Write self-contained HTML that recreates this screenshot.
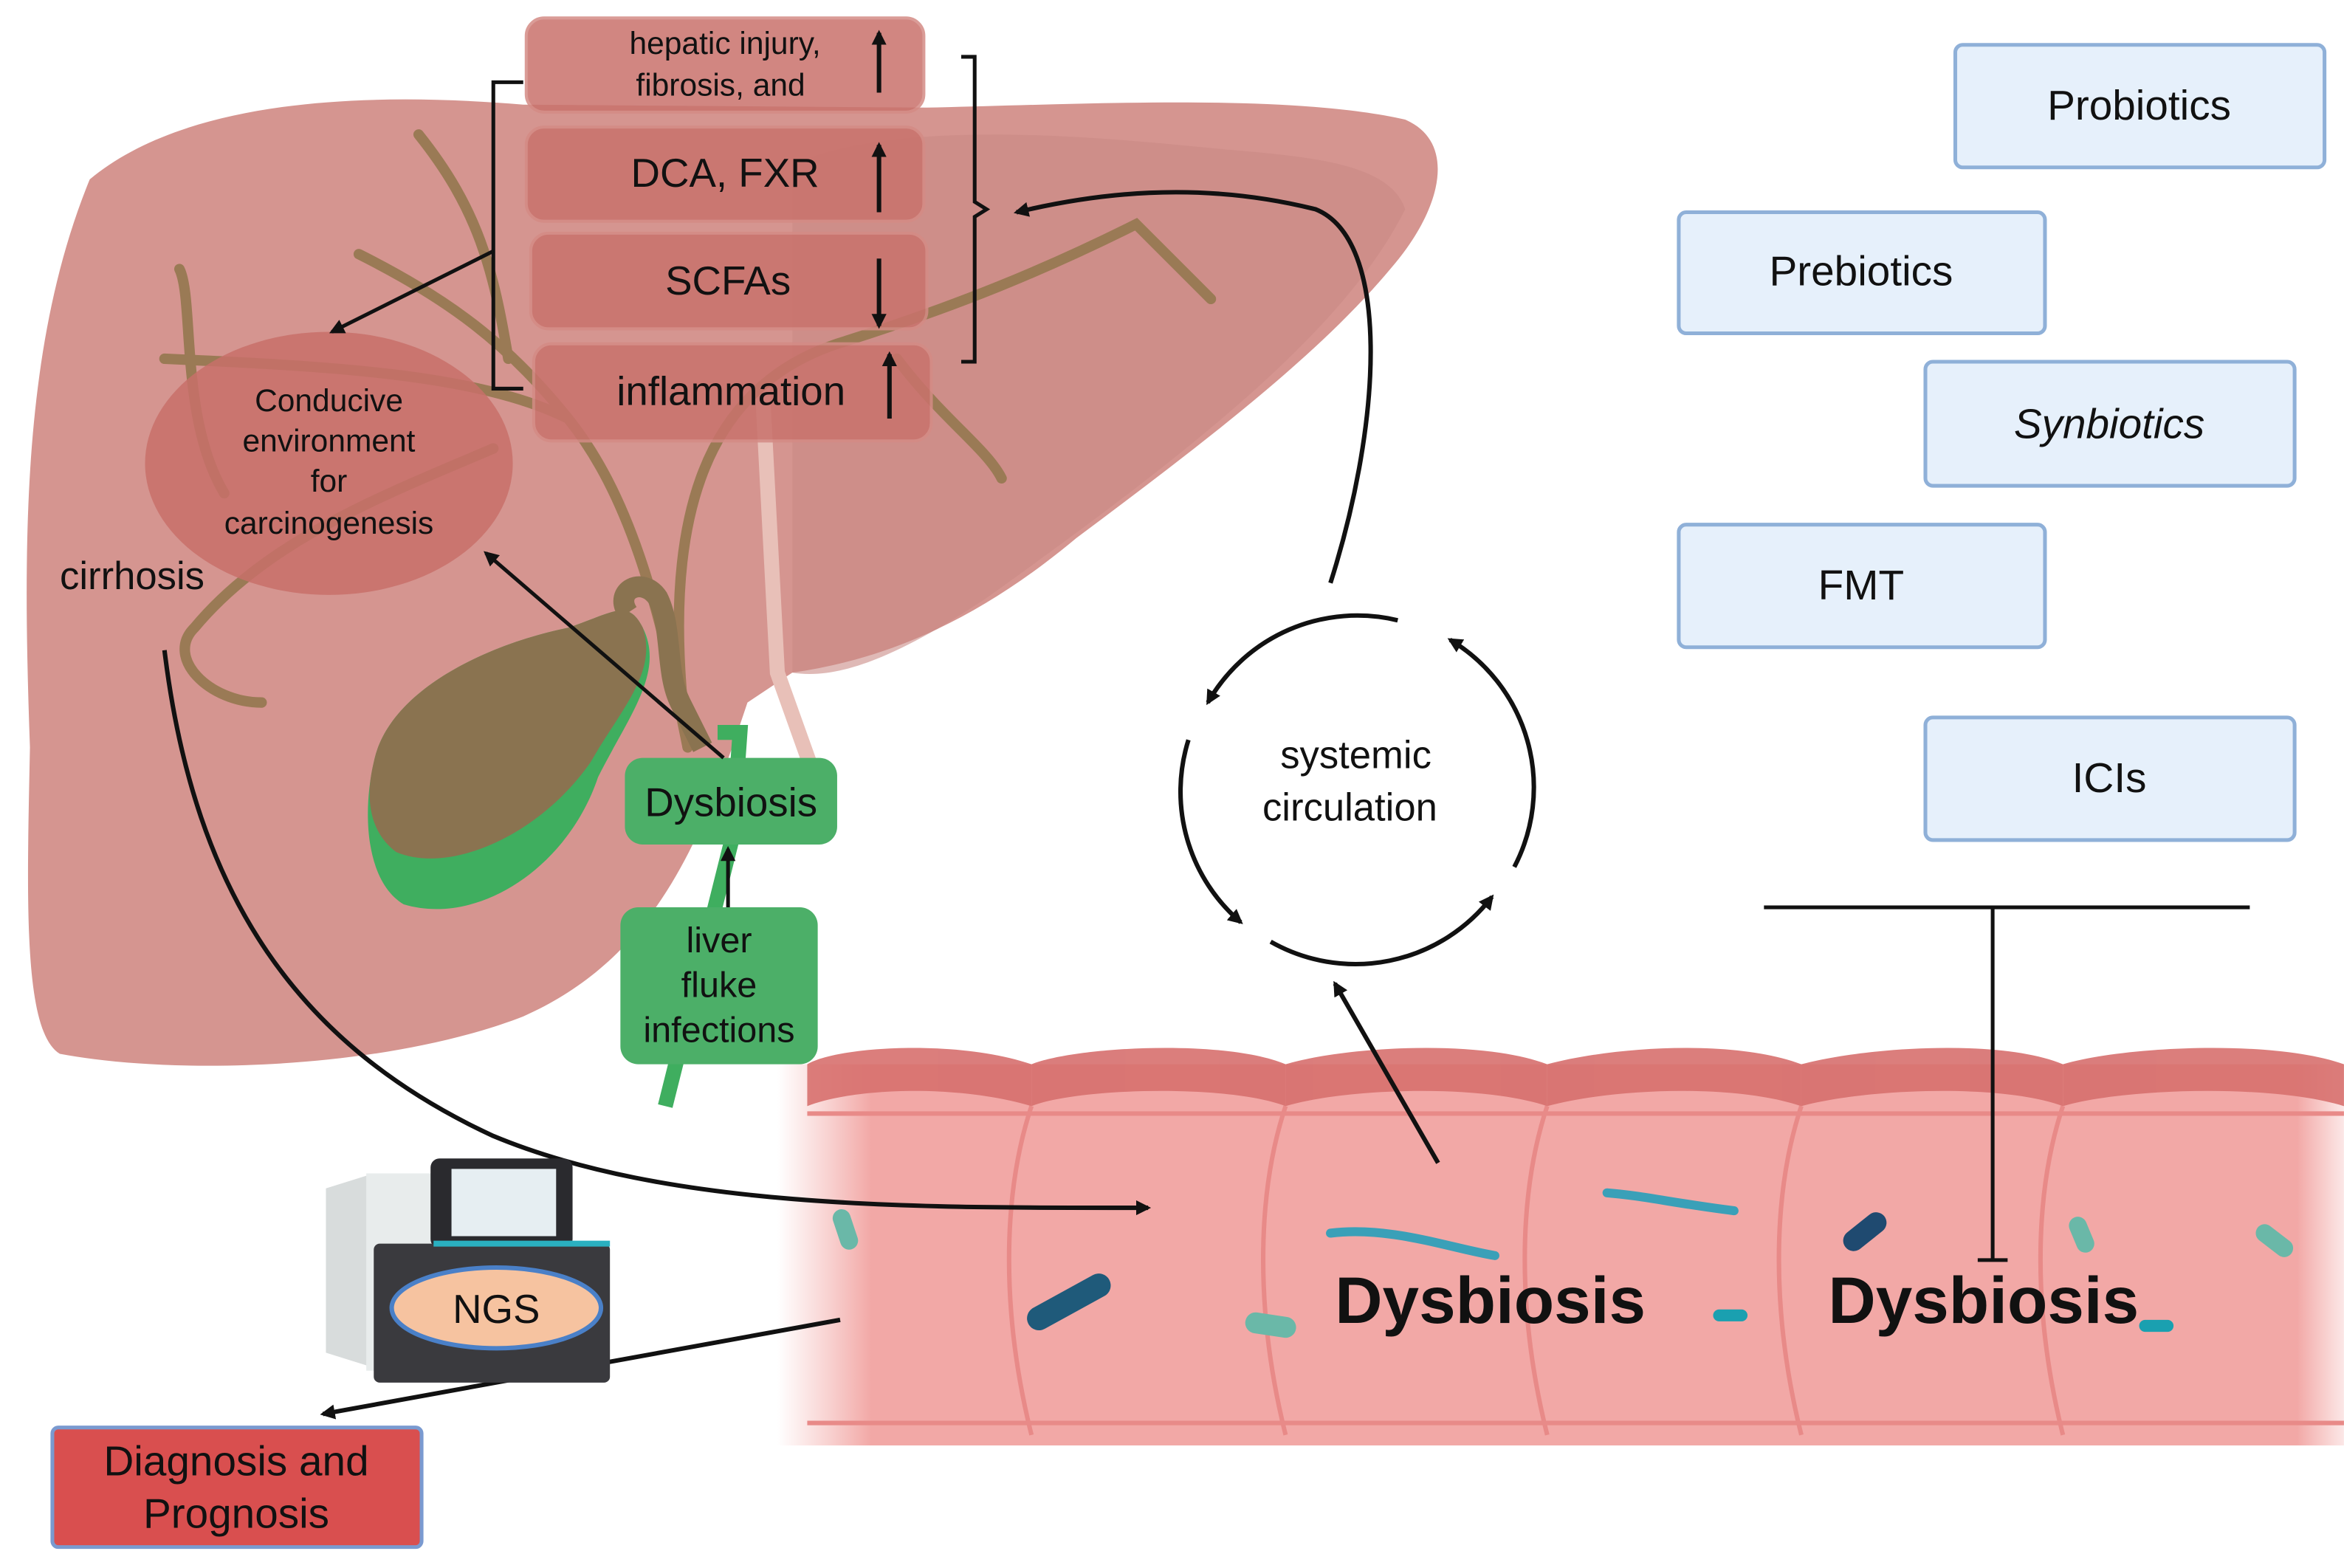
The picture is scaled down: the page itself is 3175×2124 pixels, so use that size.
<!DOCTYPE html>
<html><head><meta charset="utf-8">
<style>html,body{margin:0;padding:0;background:#fff}svg{display:block}text{font-family:"Liberation Sans",sans-serif}</style>
</head><body>
<svg width="3175" height="2124" viewBox="0 0 1568 1049" xmlns="http://www.w3.org/2000/svg">
<defs>
<marker id="ah" markerWidth="10" markerHeight="10" refX="8" refY="5" orient="auto" markerUnits="userSpaceOnUse"><path d="M0,0 L10,5 L0,10 z" fill="#111"/></marker>
<linearGradient id="gut" x1="0" x2="1" y1="0" y2="0"><stop offset="0" stop-color="#f4b0ae" stop-opacity="0"/><stop offset="0.06" stop-color="#f2a8a6"/><stop offset="0.97" stop-color="#f2a8a6"/><stop offset="1" stop-color="#f4b0ae" stop-opacity="0.3"/></linearGradient>
</defs>
<rect width="1568" height="1049" fill="#fff"/>
<!-- liver -->
<path d="M60,120 C120,70 230,60 350,70 L620,72 C720,70 860,62 940,80 C975,95 965,140 930,180 C880,240 800,300 720,360 C660,410 600,440 530,450 L500,470 C470,560 440,640 350,680 C260,715 120,720 40,705 C15,690 18,600 20,500 C15,360 15,230 60,120 Z" fill="#d59590"/>
<path d="M530,110 C600,80 720,90 820,100 C880,105 930,110 940,140 C900,220 800,300 660,400 C600,440 560,455 530,450 Z" fill="#c98a85" opacity="0.6"/>
<path d="M510,260 L520,450 L545,520" stroke="#e8c0b8" stroke-width="10" fill="none"/>
<!-- bile ducts -->
<g stroke="#9a7a55" stroke-width="7" fill="none" stroke-linecap="round">
<path d="M460,500 C440,400 420,330 380,280 C340,230 300,200 240,170"/>
<path d="M380,280 C320,250 220,245 110,240"/>
<path d="M330,300 C260,330 180,360 130,420 C110,440 140,470 175,470"/>
<path d="M460,500 C440,350 470,260 560,230 C640,205 700,180 760,150 L810,200"/>
<path d="M600,240 C630,280 660,300 670,320"/>
<path d="M340,240 C330,180 320,140 280,90"/>
<path d="M150,330 C120,280 130,200 120,180"/>
</g>
<!-- gallbladder -->
<path d="M250,510 C260,460 330,430 380,420 C410,410 420,400 430,420 C445,450 420,480 400,520 C380,580 320,620 270,605 C245,590 242,545 250,510 Z" fill="#3fae5f"/>
<path d="M250,510 C260,460 330,430 380,420 C410,410 420,400 430,420 C440,450 415,475 395,510 C360,560 300,585 265,570 C245,555 245,530 250,510 Z" fill="#8a7350"/>
<path d="M420,410 C410,395 430,385 440,400 C450,420 445,450 455,470 L470,500" stroke="#8a7350" stroke-width="14" fill="none"/>
<path d="M480,490 L495,490 L490,560 L445,740" stroke="#3fae5f" stroke-width="10" fill="none"/>
<!-- ellipse -->
<ellipse cx="220" cy="310" rx="123" ry="88" fill="#c8706a" opacity="0.85"/>
<text font-size="21" fill="#111" text-anchor="middle"><tspan x="220" y="275">Conducive</tspan><tspan x="220" y="302">environment</tspan><tspan x="220" y="329">for</tspan><tspan x="220" y="357">carcinogenesis</tspan></text>
<text x="40" y="394" font-size="26" fill="#111">cirrhosis</text>
<!-- top boxes -->
<g fill="#c9726c" opacity="0.85" stroke="#d48b85" stroke-width="2">
<rect x="352" y="12" width="266" height="63" rx="12"/>
<rect x="352" y="85" width="266" height="63" rx="12"/>
<rect x="355" y="156" width="265" height="64" rx="12"/>
<rect x="357" y="230" width="266" height="65" rx="12"/>
</g>
<text font-size="21" fill="#111" text-anchor="middle"><tspan x="485" y="36">hepatic injury,</tspan><tspan x="482" y="64">fibrosis, and</tspan></text>
<text x="485" y="125" font-size="27" fill="#111" text-anchor="middle">DCA, FXR</text>
<text x="487" y="197" font-size="27" fill="#111" text-anchor="middle">SCFAs</text>
<text x="489" y="271" font-size="27" fill="#111" text-anchor="middle">inflammation</text>
<g stroke="#111" stroke-width="3">
<line x1="588" y1="62" x2="588" y2="22" marker-end="url(#ah)"/>
<line x1="588" y1="142" x2="588" y2="97" marker-end="url(#ah)"/>
<line x1="588" y1="173" x2="588" y2="218" marker-end="url(#ah)"/>
<line x1="595" y1="280" x2="595" y2="237" marker-end="url(#ah)"/>
</g>
<path d="M350,55 L330,55 L330,260 L350,260" stroke="#111" stroke-width="2.5" fill="none"/>
<path d="M643,38 L652,38 L652,135 L660,140 L652,145 L652,242 L643,242" stroke="#111" stroke-width="2.5" fill="none"/>
<line x1="330" y1="168" x2="222" y2="222" stroke="#111" stroke-width="2.5" marker-end="url(#ah)"/>
<!-- green -->
<rect x="418" y="507" width="142" height="58" rx="12" fill="#4caf68"/>
<text x="489" y="546" font-size="27" fill="#111" text-anchor="middle">Dysbiosis</text>
<rect x="415" y="607" width="132" height="105" rx="12" fill="#4caf68"/>
<text font-size="24" fill="#111" text-anchor="middle"><tspan x="481" y="637">liver</tspan><tspan x="481" y="667">fluke</tspan><tspan x="481" y="697">infections</tspan></text>
<line x1="487" y1="607" x2="487" y2="568" stroke="#111" stroke-width="2.5" marker-end="url(#ah)"/>
<line x1="484" y1="507" x2="325" y2="370" stroke="#111" stroke-width="2.5" marker-end="url(#ah)"/>
<!-- gut -->
<rect x="520" y="712" width="1048" height="255" fill="url(#gut)"/>
<g fill="#d7706e" opacity="0.9">
<path d="M540,712 C560,700 640,695 690,712 L690,740 C640,725 570,728 540,740 Z"/>
<path d="M690,712 C720,700 820,695 860,712 L860,740 C820,725 720,728 690,740 Z"/>
<path d="M860,712 C900,700 990,695 1035,712 L1035,740 C990,725 900,728 860,740 Z"/>
<path d="M1035,712 C1080,700 1160,695 1205,712 L1205,740 C1160,725 1080,728 1035,740 Z"/>
<path d="M1205,712 C1250,700 1340,695 1380,712 L1380,740 C1340,725 1250,728 1205,740 Z"/>
<path d="M1380,712 C1420,700 1520,695 1568,712 L1568,740 C1520,725 1420,728 1380,740 Z"/>
</g>
<g stroke="#e88a88" stroke-width="3" fill="none">
<path d="M690,740 C670,800 670,880 690,960"/><path d="M860,740 C840,800 840,880 860,960"/>
<path d="M1035,740 C1015,800 1015,880 1035,960"/><path d="M1205,740 C1185,800 1185,880 1205,960"/>
<path d="M1380,740 C1360,800 1360,880 1380,960"/>
<path d="M540,952 L1568,952"/><path d="M540,745 L1568,745"/>
</g>
<g stroke-linecap="round" fill="none">
<line x1="695" y1="882" x2="735" y2="860" stroke="#1f5a7a" stroke-width="16"/>
<line x1="1240" y1="830" x2="1255" y2="818" stroke="#1f4a70" stroke-width="14"/>
<path d="M890,825 C930,820 970,835 1000,840" stroke="#3aa0b8" stroke-width="6"/>
<path d="M1075,798 C1100,800 1120,805 1160,810" stroke="#3aa0b8" stroke-width="6"/>
<line x1="840" y1="885" x2="860" y2="888" stroke="#6ab8a8" stroke-width="14"/>
<line x1="563" y1="815" x2="568" y2="830" stroke="#6ab8a8" stroke-width="12"/>
<line x1="1515" y1="825" x2="1528" y2="835" stroke="#6ab8a8" stroke-width="12"/>
<line x1="1390" y1="820" x2="1395" y2="832" stroke="#6ab8a8" stroke-width="12"/>
<line x1="1150" y1="880" x2="1165" y2="880" stroke="#1aa0b0" stroke-width="8"/>
<line x1="1435" y1="887" x2="1450" y2="887" stroke="#1aa0b0" stroke-width="8"/>
</g>
<text x="893" y="885" font-size="44" font-weight="bold" fill="#111">Dysbiosis</text>
<text x="1223" y="885" font-size="44" font-weight="bold" fill="#111">Dysbiosis</text>
<!-- right boxes -->
<g fill="#e6f0fb" stroke="#8fb0d8" stroke-width="2.5">
<rect x="1308" y="30" width="247" height="82" rx="5"/>
<rect x="1123" y="142" width="245" height="81" rx="5"/>
<rect x="1288" y="242" width="247" height="83" rx="5"/>
<rect x="1123" y="351" width="245" height="82" rx="5"/>
<rect x="1288" y="480" width="247" height="82" rx="5"/>
</g>
<g font-size="28" fill="#111" text-anchor="middle">
<text x="1431" y="80">Probiotics</text><text x="1245" y="191">Prebiotics</text>
<text x="1411" y="293" font-style="italic">Synbiotics</text><text x="1245" y="401">FMT</text>
<text x="1411" y="530">ICIs</text></g>
<g stroke="#111" stroke-width="2.5"><line x1="1180" y1="607" x2="1505" y2="607"/><line x1="1333" y1="607" x2="1333" y2="843"/><line x1="1323" y1="843" x2="1343" y2="843"/></g>
<!-- circulation -->
<g stroke="#111" stroke-width="3" fill="none">
<path d="M935,415 A115,115 0 0,0 808,470" marker-end="url(#ah)"/>
<path d="M795,495 A115,115 0 0,0 830,617" marker-end="url(#ah)"/>
<path d="M850,630 A115,115 0 0,0 998,600" marker-end="url(#ah)"/>
<path d="M1013,580 A115,115 0 0,0 970,428" marker-end="url(#ah)"/>
<path d="M890,390 C925,280 930,160 880,140 C800,120 730,130 680,142" marker-end="url(#ah)"/>
<line x1="962" y1="778" x2="893" y2="658" marker-end="url(#ah)"/>
<path d="M110,435 C130,600 200,700 330,760 C450,810 620,808 768,808" marker-end="url(#ah)"/>
<line x1="562" y1="883" x2="216" y2="946" marker-end="url(#ah)"/>
</g>
<text font-size="26" fill="#111" text-anchor="middle"><tspan x="907" y="514">systemic</tspan><tspan x="903" y="549">circulation</tspan></text>
<!-- NGS -->
<path d="M218,795 L250,785 L250,915 L218,905 Z" fill="#d8dcdc"/>
<rect x="245" y="785" width="45" height="132" fill="#e8ecec"/>
<rect x="288" y="775" width="95" height="60" rx="6" fill="#2a2a2e"/>
<rect x="302" y="782" width="70" height="45" fill="#e6eef2"/>
<rect x="250" y="832" width="158" height="93" rx="4" fill="#3a3a3e"/>
<line x1="290" y1="832" x2="408" y2="832" stroke="#2ab0c0" stroke-width="4"/>
<ellipse cx="332" cy="875" rx="70" ry="27" fill="#f6c3a0" stroke="#4a80c8" stroke-width="3"/>
<text x="332" y="885" font-size="27" fill="#111" text-anchor="middle">NGS</text>
<rect x="35" y="955" width="247" height="80" rx="4" fill="#d94f4f" stroke="#7a9ad0" stroke-width="2.5"/>
<text font-size="28" fill="#111" text-anchor="middle"><tspan x="158" y="987">Diagnosis and</tspan><tspan x="158" y="1022">Prognosis</tspan></text>
</svg>
</body></html>
